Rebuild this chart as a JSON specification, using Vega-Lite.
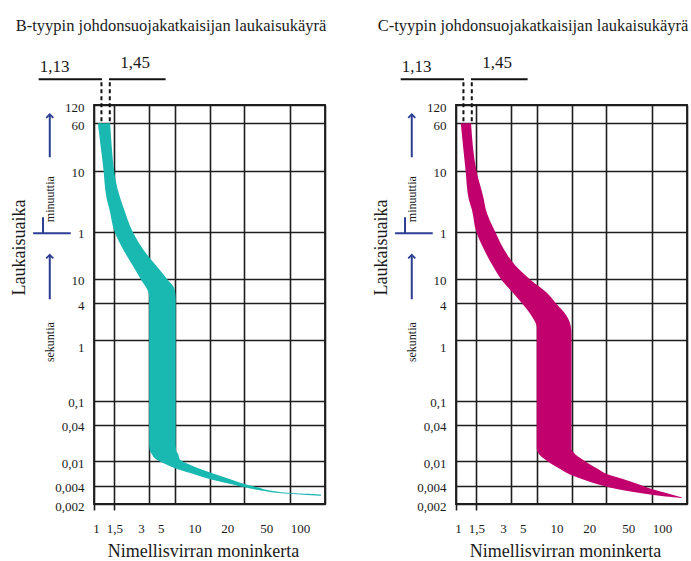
{
  "$schema": "https://vega.github.io/schema/vega-lite/v6.json",
  "background": "white",
  "padding": {"left": 9, "top": 17, "right": 0, "bottom": 0},
  "spacing": 43,
  "config": {
    "font": "Liberation Serif",
    "view": {"stroke": "#1e1e1e", "strokeWidth": 1.8},
    "title": {"anchor": "start", "frame": "bounds", "fontSize": 16.5, "fontWeight": "normal", "font": "Liberation Serif", "color": "#1a1a1a", "offset": 19, "dx": 5},
    "axis": {"labelFont": "Liberation Serif", "titleFont": "Liberation Serif", "labelColor": "#1a1a1a", "titleColor": "#1a1a1a", "titleFontWeight": "normal", "gridColor": "#1e1e1e", "gridWidth": 1.6, "gridOpacity": 1, "ticks": false, "tickSize": 0, "domain": false, "zindex": 1, "labelOverlap": false, "labelFlush": false}
  },
  "datasets": {
    "bandB": [
      {"t": 0.00274, "lo": 90, "hi": 92.3},
      {"t": 0.00284, "lo": 65.1, "hi": 92.3},
      {"t": 0.00303, "lo": 40.2, "hi": 50.8},
      {"t": 0.0033, "lo": 28.8, "hi": 34.1},
      {"t": 0.00376, "lo": 20.1, "hi": 26.1},
      {"t": 0.00426, "lo": 15.2, "hi": 20.1},
      {"t": 0.00515, "lo": 10.0, "hi": 14.9},
      {"t": 0.0062, "lo": 7.25, "hi": 11.08},
      {"t": 0.0075, "lo": 5.25, "hi": 8.33},
      {"t": 0.0091, "lo": 4.14, "hi": 6.55},
      {"t": 0.011, "lo": 3.42, "hi": 5.51},
      {"t": 0.0132, "lo": 3.17, "hi": 5.36},
      {"t": 0.015, "lo": 3.04, "hi": 5.15},
      {"t": 0.0193, "lo": 3.0, "hi": 5.1},
      {"t": 4.6, "lo": 3.0, "hi": 5.1},
      {"t": 5.3, "lo": 3.0, "hi": 5.08},
      {"t": 7.2, "lo": 2.83, "hi": 4.92},
      {"t": 9.6, "lo": 2.56, "hi": 4.36},
      {"t": 16.4, "lo": 2.17, "hi": 3.46},
      {"t": 31, "lo": 1.78, "hi": 2.65},
      {"t": 59, "lo": 1.51, "hi": 2.17},
      {"t": 140, "lo": 1.36, "hi": 1.82},
      {"t": 204, "lo": 1.29, "hi": 1.7},
      {"t": 300, "lo": 1.25, "hi": 1.6},
      {"t": 610, "lo": 1.21, "hi": 1.49},
      {"t": 1350, "lo": 1.15, "hi": 1.43},
      {"t": 3600, "lo": 1.08, "hi": 1.38}
    ],
    "bandC": [
      {"t": 0.00251, "lo": 88, "hi": 90},
      {"t": 0.00256, "lo": 81.5, "hi": 90},
      {"t": 0.00271, "lo": 60.4, "hi": 81.5},
      {"t": 0.00303, "lo": 39.2, "hi": 66.1},
      {"t": 0.00353, "lo": 24.6, "hi": 49.5},
      {"t": 0.00426, "lo": 16.57, "hi": 37.5},
      {"t": 0.00515, "lo": 12.29, "hi": 27.9},
      {"t": 0.0062, "lo": 9.49, "hi": 20.2},
      {"t": 0.0075, "lo": 7.98, "hi": 16.97},
      {"t": 0.0091, "lo": 6.72, "hi": 14.24},
      {"t": 0.011, "lo": 5.82, "hi": 12.27},
      {"t": 0.0132, "lo": 5.24, "hi": 10.78},
      {"t": 0.016, "lo": 5.0, "hi": 10},
      {"t": 0.0193, "lo": 5.0, "hi": 10},
      {"t": 1.2, "lo": 5.0, "hi": 10},
      {"t": 1.59, "lo": 5.0, "hi": 9.9},
      {"t": 2.47, "lo": 4.5, "hi": 9.06},
      {"t": 3.85, "lo": 3.77, "hi": 7.43},
      {"t": 5.98, "lo": 3.09, "hi": 6.09},
      {"t": 9.6, "lo": 2.48, "hi": 4.43},
      {"t": 16.4, "lo": 2.08, "hi": 3.28},
      {"t": 31, "lo": 1.74, "hi": 2.59},
      {"t": 59, "lo": 1.5, "hi": 2.19},
      {"t": 140, "lo": 1.37, "hi": 1.81},
      {"t": 204, "lo": 1.29, "hi": 1.74},
      {"t": 610, "lo": 1.21, "hi": 1.5},
      {"t": 3600, "lo": 1.1, "hi": 1.35}
    ],
    "segs": [
      {"part": "bracket", "x1": 0.332, "x2": 1.173, "y1": 19050, "y2": 19050},
      {"part": "bracket", "x1": 1.348, "x2": 4.17, "y1": 19050, "y2": 19050},
      {"part": "limit", "x1": 1.16, "x2": 1.16, "y1": 17000, "y2": 3600},
      {"part": "limit", "x1": 1.37, "x2": 1.37, "y1": 17000, "y2": 3600},
      {"part": "marker", "x1": 0.414, "x2": 0.414, "y1": 5070, "y2": 998},
      {"part": "marker", "x1": 0.414, "x2": 0.414, "y1": 24.8, "y2": 4.65},
      {"part": "marker", "x1": 0.297, "x2": 0.629, "y1": 56, "y2": 56},
      {"part": "marker", "x1": 0.362, "x2": 0.362, "y1": 103, "y2": 56}
    ],
    "arrowheads": [
      {"x": 0.414, "y": 5070},
      {"x": 0.414, "y": 24.8}
    ],
    "currentLabels": [
      {"label": "1,13", "x": 0.457, "y": 30560},
      {"label": "1,45", "x": 2.271, "y": 35800}
    ],
    "unitLabels": [
      {"label": "minuuttia", "x": 0.414, "y": 204},
      {"label": "sekuntia", "x": 0.414, "y": 0.914}
    ]
  },
  "hconcat": [
    {
      "title": "B-tyypin johdonsuojakatkaisijan laukaisukäyrä",
      "width": 231,
      "height": 399,
      "layer": [
        {
          "data": {"name": "bandB"},
          "mark": {"type": "area", "orient": "horizontal", "color": "#19b8b0", "interpolate": "monotone", "opacity": 1},
          "encoding": {
            "y": {"field": "t", "type": "quantitative", "scale": {"type": "log", "domain": [0.002, 7200], "nice": false},
              "axis": {"values": [0.002, 0.004, 0.01, 0.04, 0.1, 1, 4, 10, 60, 600, 3600, 7200], "grid": true,
                "labelExpr": "datum.value >= 7000 ? '120' : datum.value >= 3000 ? '60' : datum.value >= 500 ? '10' : datum.value >= 50 ? '1' : replace('' + datum.value, '.', ',')",
                "labelFontSize": 13, "labelPadding": 10, "labelBaseline": "middle",
                "labelOffset": {"condition": {"test": "datum.value == 1", "value": 8}, "value": 2},
                "title": "Laukaisuaika", "titleFontSize": 18, "titlePadding": 26, "titleY": 142}},
            "x": {"field": "lo", "type": "quantitative", "scale": {"type": "log", "domain": [1, 100], "nice": false},
              "axis": {"values": [1, 1.5, 3, 5, 10, 20, 50, 100], "grid": true,
                "ticks": true, "tickSize": 6, "tickWidth": 1.6, "tickColor": "#1e1e1e",
                "tickOpacity": {"condition": {"test": "datum.value <= 1.5", "value": 1}, "value": 0},
                "labelExpr": "datum.value == 1.5 ? '1,5' : '' + datum.value",
                "labelFontSize": 13, "labelPadding": 12,
                "labelOffset": {"condition": [
                  {"test": "datum.value == 1", "value": 2},
                  {"test": "datum.value == 3", "value": -8},
                  {"test": "datum.value == 5", "value": -14},
                  {"test": "datum.value == 10", "value": -15},
                  {"test": "datum.value == 20", "value": -17},
                  {"test": "datum.value == 50", "value": -24},
                  {"test": "datum.value == 100", "value": -25}
                ], "value": 0},
                "title": "Nimellisvirran moninkerta", "titleFontSize": 18, "titlePadding": 7, "titleX": 109}},
            "x2": {"field": "hi"}
          }
        },
        {
          "data": {"name": "segs"},
          "mark": {"type": "rule", "strokeWidth": 2},
          "encoding": {
            "x": {"field": "x1", "type": "quantitative"},
            "x2": {"field": "x2"},
            "y": {"field": "y1", "type": "quantitative"},
            "y2": {"field": "y2"},
            "color": {"field": "part", "type": "nominal", "scale": {"domain": ["bracket", "limit", "marker"], "range": ["#111111", "#111111", "#2c3e94"]}, "legend": null},
            "strokeDash": {"field": "part", "type": "nominal", "scale": {"domain": ["bracket", "limit", "marker"], "range": [[1, 0], [4, 3], [1, 0]]}, "legend": null}
          }
        },
        {
          "data": {"name": "arrowheads"},
          "mark": {"type": "point", "shape": "M-1,1L0,0L1,1", "size": 50, "filled": false, "strokeWidth": 1.8, "color": "#2c3e94", "opacity": 1},
          "encoding": {"x": {"field": "x", "type": "quantitative"}, "y": {"field": "y", "type": "quantitative"}}
        },
        {
          "data": {"name": "currentLabels"},
          "mark": {"type": "text", "fontSize": 17, "font": "Liberation Serif", "color": "#1a1a1a", "align": "center", "baseline": "middle"},
          "encoding": {"x": {"field": "x", "type": "quantitative"}, "y": {"field": "y", "type": "quantitative"}, "text": {"field": "label"}}
        },
        {
          "data": {"name": "unitLabels"},
          "mark": {"type": "text", "fontSize": 12, "font": "Liberation Serif", "color": "#1a1a1a", "align": "center", "baseline": "middle", "angle": 270},
          "encoding": {"x": {"field": "x", "type": "quantitative"}, "y": {"field": "y", "type": "quantitative"}, "text": {"field": "label"}}
        }
      ]
    },
    {
      "title": "C-tyypin johdonsuojakatkaisijan laukaisukäyrä",
      "width": 231,
      "height": 399,
      "layer": [
        {
          "data": {"name": "bandC"},
          "mark": {"type": "area", "orient": "horizontal", "color": "#c1006e", "interpolate": "monotone", "opacity": 1},
          "encoding": {
            "y": {"field": "t", "type": "quantitative", "scale": {"type": "log", "domain": [0.002, 7200], "nice": false},
              "axis": {"values": [0.002, 0.004, 0.01, 0.04, 0.1, 1, 4, 10, 60, 600, 3600, 7200], "grid": true,
                "labelExpr": "datum.value >= 7000 ? '120' : datum.value >= 3000 ? '60' : datum.value >= 500 ? '10' : datum.value >= 50 ? '1' : replace('' + datum.value, '.', ',')",
                "labelFontSize": 13, "labelPadding": 10, "labelBaseline": "middle",
                "labelOffset": {"condition": {"test": "datum.value == 1", "value": 8}, "value": 2},
                "title": "Laukaisuaika", "titleFontSize": 18, "titlePadding": 26, "titleY": 142}},
            "x": {"field": "lo", "type": "quantitative", "scale": {"type": "log", "domain": [1, 100], "nice": false},
              "axis": {"values": [1, 1.5, 3, 5, 10, 20, 50, 100], "grid": true,
                "ticks": true, "tickSize": 6, "tickWidth": 1.6, "tickColor": "#1e1e1e",
                "tickOpacity": {"condition": {"test": "datum.value <= 1.5", "value": 1}, "value": 0},
                "labelExpr": "datum.value == 1.5 ? '1,5' : '' + datum.value",
                "labelFontSize": 13, "labelPadding": 12,
                "labelOffset": {"condition": [
                  {"test": "datum.value == 1", "value": 2},
                  {"test": "datum.value == 3", "value": -8},
                  {"test": "datum.value == 5", "value": -14},
                  {"test": "datum.value == 10", "value": -15},
                  {"test": "datum.value == 20", "value": -17},
                  {"test": "datum.value == 50", "value": -24},
                  {"test": "datum.value == 100", "value": -25}
                ], "value": 0},
                "title": "Nimellisvirran moninkerta", "titleFontSize": 18, "titlePadding": 7, "titleX": 109}},
            "x2": {"field": "hi"}
          }
        },
        {
          "data": {"name": "segs"},
          "mark": {"type": "rule", "strokeWidth": 2},
          "encoding": {
            "x": {"field": "x1", "type": "quantitative"},
            "x2": {"field": "x2"},
            "y": {"field": "y1", "type": "quantitative"},
            "y2": {"field": "y2"},
            "color": {"field": "part", "type": "nominal", "scale": {"domain": ["bracket", "limit", "marker"], "range": ["#111111", "#111111", "#2c3e94"]}, "legend": null},
            "strokeDash": {"field": "part", "type": "nominal", "scale": {"domain": ["bracket", "limit", "marker"], "range": [[1, 0], [4, 3], [1, 0]]}, "legend": null}
          }
        },
        {
          "data": {"name": "arrowheads"},
          "mark": {"type": "point", "shape": "M-1,1L0,0L1,1", "size": 50, "filled": false, "strokeWidth": 1.8, "color": "#2c3e94", "opacity": 1},
          "encoding": {"x": {"field": "x", "type": "quantitative"}, "y": {"field": "y", "type": "quantitative"}}
        },
        {
          "data": {"name": "currentLabels"},
          "mark": {"type": "text", "fontSize": 17, "font": "Liberation Serif", "color": "#1a1a1a", "align": "center", "baseline": "middle"},
          "encoding": {"x": {"field": "x", "type": "quantitative"}, "y": {"field": "y", "type": "quantitative"}, "text": {"field": "label"}}
        },
        {
          "data": {"name": "unitLabels"},
          "mark": {"type": "text", "fontSize": 12, "font": "Liberation Serif", "color": "#1a1a1a", "align": "center", "baseline": "middle", "angle": 270},
          "encoding": {"x": {"field": "x", "type": "quantitative"}, "y": {"field": "y", "type": "quantitative"}, "text": {"field": "label"}}
        }
      ]
    }
  ]
}
